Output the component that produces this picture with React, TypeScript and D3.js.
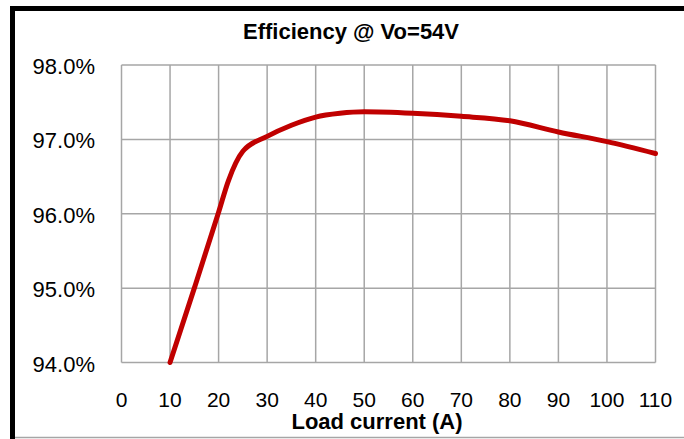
import React, { useEffect, useRef } from 'react';
import * as d3 from 'd3';

const loadCurrent = [10, 15, 20, 22, 25, 30, 35, 40, 45, 50, 60, 70, 80, 90, 100, 110];
const efficiency = [94.0, 95.0, 96.02, 96.44, 96.84, 97.04, 97.19, 97.3, 97.35, 97.37, 97.35, 97.31, 97.25, 97.1, 96.97, 96.81];
const xTicks = [0, 10, 20, 30, 40, 50, 60, 70, 80, 90, 100, 110];
const yTicks = [94, 95, 96, 97, 98];

const W = 684;
const H = 439;

export default function App() {
  const ref = useRef<SVGSVGElement>(null);

  useEffect(() => {
    const svg = d3.select(ref.current);
    svg.selectAll('*').remove();

    const left = 121.5, right = 655.5, top = 65, bottom = 362.5;
    const x = d3.scaleLinear().domain([0, 110]).range([left, right]);
    const y = d3.scaleLinear().domain([94, 98]).range([bottom, top]);
    const font = '"Liberation Sans", Arial, sans-serif';

    // frame
    svg.append('rect').attr('x', 10).attr('y', 6).attr('width', W - 10).attr('height', 5).attr('fill', '#000');
    svg.append('rect').attr('x', 10).attr('y', 6).attr('width', 5).attr('height', H - 6).attr('fill', '#000');
    svg.append('line').attr('x1', 15).attr('x2', W).attr('y1', 437.5).attr('y2', 437.5)
      .attr('stroke', '#a6a6a6').attr('stroke-width', 1.5);

    // grid
    const grid = svg.append('g').attr('stroke', '#a6a6a6').attr('stroke-width', 1.5);
    grid.selectAll('line.v').data(xTicks).enter().append('line')
      .attr('x1', d => x(d)).attr('x2', d => x(d)).attr('y1', top).attr('y2', bottom);
    grid.selectAll('line.h').data(yTicks).enter().append('line')
      .attr('x1', left).attr('x2', right).attr('y1', d => y(d)).attr('y2', d => y(d));

    // y labels
    svg.append('g').selectAll('text').data(yTicks).enter().append('text')
      .attr('x', 95).attr('y', d => y(d) + 9)
      .attr('text-anchor', 'end').attr('font-family', font).attr('font-size', 22)
      .text(d => d3.format('.1f')(d) + '%');

    // x labels
    svg.append('g').selectAll('text').data(xTicks).enter().append('text')
      .attr('x', d => x(d)).attr('y', 406.5)
      .attr('text-anchor', 'middle').attr('font-family', font).attr('font-size', 21)
      .text(d => d);

    // line
    const line = d3.line<number>()
      .x((_, i) => x(loadCurrent[i]))
      .y(d => y(d))
      .curve(d3.curveMonotoneX);
    svg.append('path').datum(efficiency).attr('d', line)
      .attr('fill', 'none').attr('stroke', '#c00000').attr('stroke-width', 5)
      .attr('stroke-linecap', 'round');

    svg.append('text').attr('x', 351).attr('y', 38.5).attr('text-anchor', 'middle')
      .attr('font-family', font).attr('font-weight', 'bold').attr('font-size', 22)
      .text('Efficiency @ Vo=54V');

    svg.append('text').attr('x', 377).attr('y', 429).attr('text-anchor', 'middle')
      .attr('font-family', font).attr('font-weight', 'bold').attr('font-size', 22)
      .text('Load current (A)');
  }, []);

  return (
    <svg ref={ref} width={W} height={H}
      style={{ position: 'absolute', left: 0, top: 0, background: '#fff' }} />
  );
}
